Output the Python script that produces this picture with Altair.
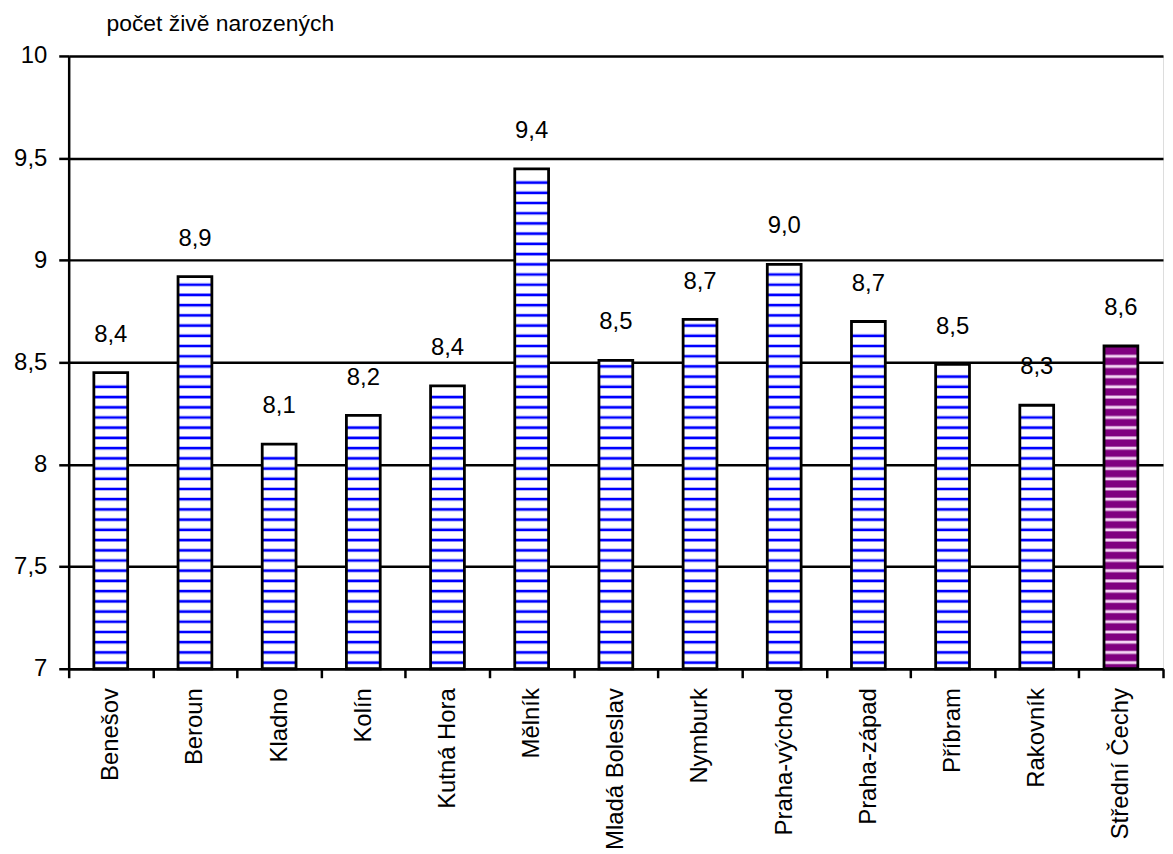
import altair as alt
import pandas as pd
import numpy as np

categories = ["Benešov", "Beroun", "Kladno", "Kolín", "Kutná Hora", "Mělník",
              "Mladá Boleslav", "Nymburk", "Praha-východ", "Praha-západ",
              "Příbram", "Rakovník", "Střední Čechy"]
values = [8.45, 8.92, 8.10, 8.24, 8.385, 9.447, 8.51, 8.71, 8.98, 8.70, 8.49, 8.29, 8.58]
labels = ["8,4", "8,9", "8,1", "8,2", "8,4", "9,4", "8,5", "8,7", "9,0", "8,7", "8,5", "8,3", "8,6"]
groups = ["okres"] * 12 + ["kraj"]
y_ticks = [7, 7.5, 8, 8.5, 9, 9.5, 10]

FONT = "Liberation Sans"

df = pd.DataFrame({"cat": categories, "val": values, "lab": labels, "grp": groups})

# decorative stripe pattern inside bars
rows = []
for c, v, g in zip(categories, values, groups):
    for s in np.arange(7.03, v - 0.02, 0.05):
        rows.append({"cat": c, "s": s, "grp": g})
stripes = pd.DataFrame(rows)

xenc = alt.X("cat:N", sort=categories, title=None,
             scale=alt.Scale(paddingInner=0, paddingOuter=0),
             axis=alt.Axis(labelAngle=-90, labelAlign="right", labelBaseline="middle",
                           labelFont=FONT, labelFontSize=24, labelColor="black",
                           labelPadding=10, tickBand="extent", tickSize=9,
                           tickColor="black", tickWidth=2.5, domainColor="black",
                           domainWidth=2.5, grid=False))
yscale = alt.Scale(domain=[7, 10], nice=False, zero=False)

bars = alt.Chart(df).mark_bar(size=34, strokeWidth=0).encode(
    x=xenc,
    y=alt.Y("val:Q", scale=yscale, title=None,
            axis=alt.Axis(values=y_ticks,
                          labelExpr="replace(format(datum.value, '.1~f'), '.', ',')",
                          labelFont=FONT, labelFontSize=24, labelColor="black",
                          labelPadding=12, tickSize=10, tickColor="black", tickWidth=2.5,
                          domainColor="black", domainWidth=2.5,
                          grid=True, gridColor="black", gridWidth=2.5)),
    y2=alt.datum(7),
    fill=alt.Fill("grp:N", scale=alt.Scale(domain=["okres", "kraj"], range=["white", "#800080"]),
                  legend=None),
)

stripe_halo = alt.Chart(stripes).mark_tick(size=34, thickness=4, opacity=1).encode(
    x=alt.X("cat:N", sort=categories),
    y=alt.Y("s:Q", scale=yscale),
    color=alt.Color("grp:N", scale=alt.Scale(domain=["okres", "kraj"], range=["#b4b8ff", "#b060b0"]),
                    legend=None),
)
stripe_core = alt.Chart(stripes).mark_tick(size=34, thickness=2.2, opacity=1).encode(
    x=alt.X("cat:N", sort=categories),
    y=alt.Y("s:Q", scale=yscale),
    color=alt.Color("grp:N", scale=alt.Scale(domain=["okres", "kraj"], range=["#0000ff", "#f4d4f4"]),
                    legend=None),
)

outline = alt.Chart(df).mark_bar(size=34, fill=None, stroke="black", strokeWidth=2.8,
                                 fillOpacity=0).encode(
    x=alt.X("cat:N", sort=categories),
    y=alt.Y("val:Q", scale=yscale),
    y2=alt.datum(7),
)

text = alt.Chart(df).mark_text(font=FONT, fontSize=24, color="black", dy=-38,
                               baseline="middle").encode(
    x=alt.X("cat:N", sort=categories),
    y=alt.Y("val:Q", scale=yscale),
    text="lab:N",
)

chart = alt.layer(bars, stripe_halo, stripe_core, outline, text).resolve_scale(
    color="independent"
).properties(
    width=1100, height=616,
    title=alt.TitleParams("počet živě narozených", anchor="start", frame="group", dx=38,
                          font=FONT, fontSize=23, fontWeight="normal", color="black",
                          offset=8),
    padding={"left": 5, "top": 3, "right": 0, "bottom": 0},
).configure_view(stroke=None).configure(background="white")

chart.save("out.html", embed_options={"renderer": "svg", "actions": False})
